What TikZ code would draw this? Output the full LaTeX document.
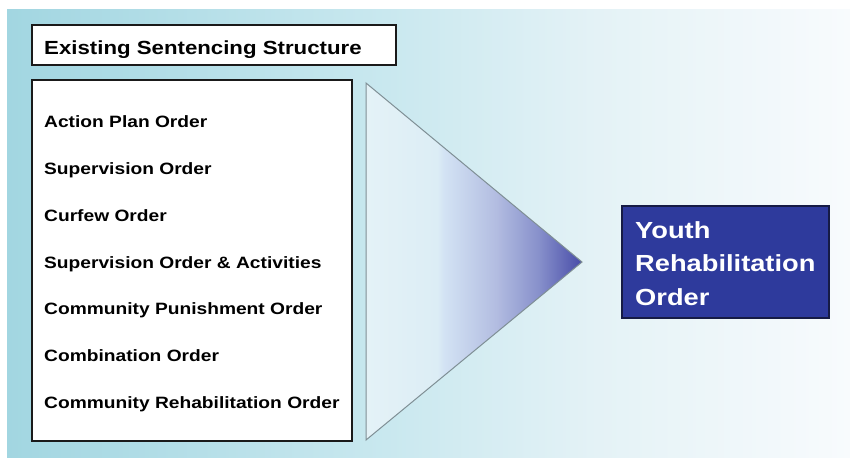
\documentclass[tikz,border=0pt]{standalone}
\usepackage{fontspec}
\setmainfont{Liberation Sans}[FakeStretch=1.17]
\usetikzlibrary{shapes.geometric}

\definecolor{panelA}{HTML}{A2D6E1}
\definecolor{panelB}{HTML}{C9E8EF}
\definecolor{panelC}{HTML}{E4F2F6}
\definecolor{panelD}{HTML}{F8FBFD}
\definecolor{triA}{HTML}{E4F2F7}
\definecolor{triB}{HTML}{DCEDF5}
\definecolor{triC}{HTML}{D3E3F4}
\definecolor{triD}{HTML}{B3BDE1}
\definecolor{triE}{HTML}{8790CB}
\definecolor{triF}{HTML}{484CA8}
\definecolor{triedge}{HTML}{7F8F95}
\definecolor{yroblue}{HTML}{2E3A9C}
\definecolor{yroedge}{HTML}{161B45}
\definecolor{boxedge}{HTML}{1A1A1A}

% the filled path spans the 25bp..75bp part of a 100bp shading
\pgfdeclarehorizontalshading{panelshade}{100bp}{
  color(0bp)=(panelA); color(25bp)=(panelA); color(47.5bp)=(panelB);
  color(60bp)=(panelC); color(75bp)=(panelD); color(100bp)=(panelD)}
\pgfdeclarehorizontalshading{funnelshade}{100bp}{
  color(0bp)=(triA); color(25bp)=(triA); color(41.5bp)=(triB); color(43bp)=(triC);
  color(55bp)=(triD); color(65bp)=(triE); color(75bp)=(triF); color(100bp)=(triF)}

\tikzset{
  whitebox/.style={draw=boxedge, line width=1.5pt, fill=white, rectangle, inner sep=0pt},
  listitem/.style={anchor=base west, inner sep=0pt, font=\bfseries\fontsize{16.4}{19}\selectfont},
  titletext/.style={anchor=base west, inner sep=0pt, font=\bfseries\fontsize{19}{22}\selectfont},
  yrobox/.style={draw=yroedge, line width=1.2pt, fill=yroblue, rectangle, inner sep=0pt},
  yrotext/.style={anchor=base west, inner sep=0pt, text=white, font=\bfseries\fontsize{23.3}{28}\selectfont},
}

\begin{document}
\begin{tikzpicture}[x=1pt, y=-1pt]
  \useasboundingbox (0,0) rectangle (850,459);
  \fill[white] (0,0) rectangle (850,459);

  % shaded backdrop panel
  \shade[shading=panelshade] (7,9) rectangle (850,457);

  % heading box
  \node[whitebox, minimum width=364pt, minimum height=40pt] (title) at (214,45) {};
  \node[titletext] (titlelabel) at (44,54.3) {Existing Sentencing Structure};

  % list of current orders
  \node[whitebox, minimum width=320pt, minimum height=361pt] (list) at (192,260.5) {};
  \node[listitem] (o1) at (44,127.7) {Action Plan Order};
  \node[listitem] (o2) at (44,174.5) {Supervision Order};
  \node[listitem] (o3) at (44,221.3) {Curfew Order};
  \node[listitem] (o4) at (44,268.0) {Supervision Order \& Activities};
  \node[listitem] (o5) at (44,314.8) {Community Punishment Order};
  \node[listitem] (o6) at (44,361.6) {Combination Order};
  \node[listitem] (o7) at (44,408.3) {Community Rehabilitation Order};

  % funnel triangle
  \coordinate (ftop) at (366,83);
  \coordinate (fbot) at (366,440);
  \coordinate (fapex) at (582,262);
  \shade[shading=funnelshade] (ftop) -- (fapex) -- (fbot) -- cycle;
  \draw[triedge, line width=1pt, line join=miter] (ftop) -- (fapex) -- (fbot) -- cycle;

  % resulting order
  \node[yrobox, minimum width=207pt, minimum height=112pt] (yro) at (725.5,262) {};
  \node[yrotext] (yro1) at (635,238.3) {Youth};
  \node[yrotext] (yro2) at (635,271.6) {Rehabilitation};
  \node[yrotext] (yro3) at (635,305) {Order};
\end{tikzpicture}
\end{document}
